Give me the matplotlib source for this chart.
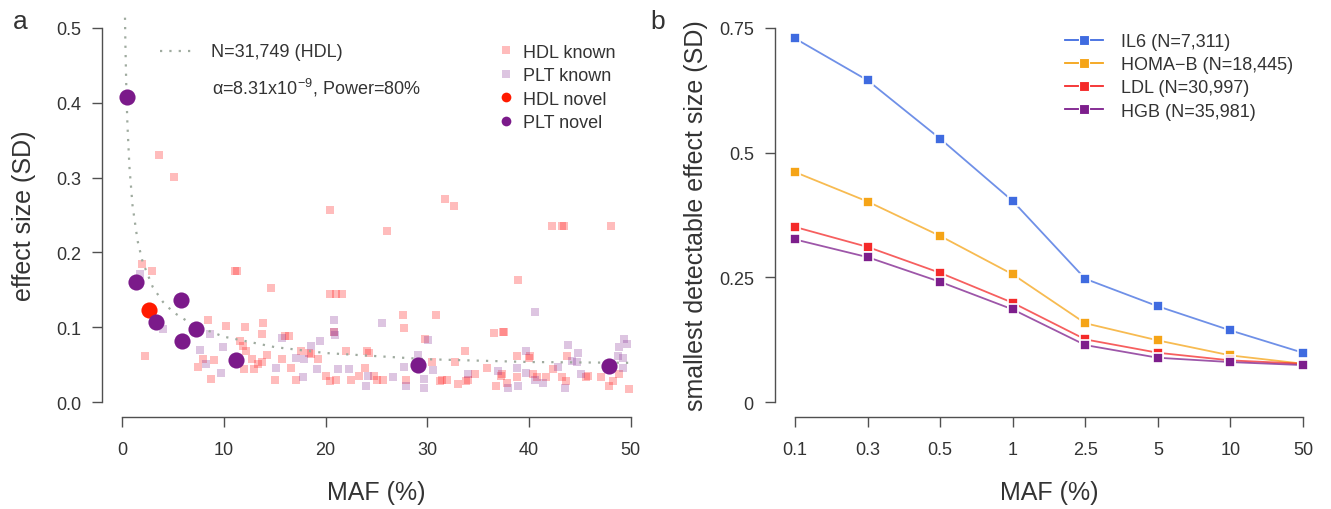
import numpy as np
import matplotlib
matplotlib.use("Agg")
import matplotlib.pyplot as plt
from matplotlib.lines import Line2D

plt.rcParams['font.family'] = ['Liberation Sans', 'DejaVu Sans']
plt.rcParams['mathtext.fontset'] = 'custom'
plt.rcParams['mathtext.rm'] = 'Liberation Sans'
plt.rcParams['mathtext.it'] = 'Liberation Sans:italic'

# ---- panel a data (MAF %, effect size SD) ----
hdl_known_maf = [3.62, 5.07, 1.9, 2.93, 11.1, 11.3, 20.4, 31.7, 32.6, 26.0, 42.3, 43.2, 43.4, 48.1,
                 38.9, 14.6, 20.4, 21.0, 21.6, 27.6, 30.9, 27.7, 8.4, 2.24,
                 10.2, 12.1, 13.8, 13.75, 16.0, 16.4, 7.9, 7.4, 9.0, 8.7, 11.6, 11.9, 12.2, 12.0,
                 12.8, 13.3, 13.7, 13.0, 14.2, 15.7, 15.0, 16.6, 17.6, 18.4, 18.6, 19.2, 17.1,
                 20.0, 20.4, 21.0, 22.0, 22.5, 23.3, 23.9, 24.1, 24.3, 25.0, 20.8,
                 29.8, 36.6, 37.4, 37.5, 30.5, 32.7, 33.7, 27.9, 25.6, 24.8, 31.2, 31.4, 31.9,
                 33.0, 33.8, 34.0, 34.7, 35.9, 37.2, 37.3, 36.8, 37.8, 38.8, 38.8, 40.0, 40.1,
                 40.4, 40.8, 41.7, 42.4, 43.2, 43.6, 43.7, 45.6, 45.8, 47.1, 47.9, 48.3, 48.9, 49.8]
hdl_known_eff = [0.330, 0.301, 0.184, 0.1755, 0.1755, 0.1755, 0.257, 0.272, 0.262, 0.229, 0.235, 0.235, 0.235, 0.235,
                 0.163, 0.152, 0.145, 0.145, 0.145, 0.117, 0.116, 0.099, 0.109, 0.062,
                 0.102, 0.1005, 0.106, 0.091, 0.088, 0.088, 0.057, 0.047, 0.056, 0.031, 0.082, 0.075, 0.068, 0.044,
                 0.057, 0.0505, 0.054, 0.044, 0.0625, 0.057, 0.030, 0.046, 0.068, 0.066, 0.064, 0.057, 0.030,
                 0.035, 0.028, 0.030, 0.068, 0.030, 0.035, 0.046, 0.068, 0.066, 0.030, 0.094,
                 0.084, 0.092, 0.094, 0.093, 0.053, 0.054, 0.068, 0.030, 0.030, 0.035, 0.028, 0.029, 0.030,
                 0.024, 0.028, 0.029, 0.037, 0.046, 0.035, 0.037, 0.022, 0.026, 0.033, 0.062, 0.0595, 0.062,
                 0.038, 0.033, 0.033, 0.044, 0.033, 0.028, 0.062, 0.033, 0.035, 0.033, 0.021, 0.028, 0.037, 0.018]

plt_known_maf = [40.6, 25.5, 20.8, 20.8, 20.9, 3.97, 8.6, 15.7, 19.4, 18.6, 7.68, 8.2, 9.9, 9.7, 15.1,
                 17.1, 17.9, 19.1, 17.8, 21.2, 22.3, 24.2, 24.0, 30.1, 29.1, 27.7, 30.6, 29.7, 29.7,
                 27.9, 26.6, 34.0, 37.0, 37.9, 38.8, 38.9, 39.7, 39.7, 40.6, 41.4, 42.9, 43.5, 43.8,
                 44.2, 44.7, 44.8, 45.1, 48.8, 49.2, 49.3, 49.6, 48.9, 49.2, 1.72]
plt_known_eff = [0.121, 0.106, 0.109, 0.093, 0.090, 0.098, 0.091, 0.086, 0.082, 0.075, 0.069, 0.0505, 0.073, 0.039, 0.046,
                 0.0595, 0.057, 0.044, 0.033, 0.044, 0.044, 0.035, 0.021, 0.083, 0.0625, 0.047, 0.043, 0.031, 0.019,
                 0.021, 0.0335, 0.037, 0.0415, 0.019, 0.045, 0.021, 0.068, 0.039, 0.030, 0.026, 0.047, 0.019, 0.076,
                 0.055, 0.054, 0.066, 0.037, 0.062, 0.0595, 0.084, 0.077, 0.073, 0.046, 0.171]

hdl_novel_maf = [2.59]
hdl_novel_eff = [0.123]
plt_novel_maf = [0.45, 1.38, 5.76, 3.34, 5.9, 7.24, 11.14, 29.07, 47.9]
plt_novel_eff = [0.408, 0.161, 0.136, 0.107, 0.082, 0.098, 0.056, 0.050, 0.048]

# power curve (N=31,749)
curve_maf = [0.15, 0.2, 0.25, 0.3, 0.4, 0.5, 0.7, 1, 1.5, 2, 3, 4, 5, 7, 10, 15, 20, 30, 40, 50]
curve_eff = [0.677, 0.586, 0.525, 0.479, 0.415, 0.371, 0.314, 0.263, 0.2155, 0.187, 0.1535, 0.1337,
             0.1202, 0.1027, 0.0873, 0.0734, 0.0655, 0.0572, 0.0535, 0.0524]

# ---- panel b data ----
maf_labels = ['0.1', '0.3', '0.5', '1', '2.5', '5', '10', '50']
series_names = ['IL6 (N=7,311)', 'HOMA\u2212B (N=18,445)', 'LDL (N=30,997)', 'HGB (N=35,981)']
il6 = [0.729, 0.645, 0.528, 0.403, 0.247, 0.192, 0.1436, 0.0988]
homab = [0.461, 0.402, 0.333, 0.256, 0.158, 0.1236, 0.0935, 0.0768]
ldl = [0.351, 0.311, 0.259, 0.199, 0.1256, 0.0988, 0.0835, 0.0768]
hgb = [0.326, 0.2905, 0.241, 0.1857, 0.1142, 0.0888, 0.0801, 0.0741]
series_colors = ['#3f6be0', '#f5a417', '#f42a2a', '#7d1e8c']

red = '#ff1a00'
purple = '#7b1a8a'
axcol = '#505050'
txtcol = '#333333'
curvecol = '#9fab9f'

fig = plt.figure(figsize=(13.31, 5.10), dpi=100)
ax1 = fig.add_axes([102 / 1331, 1 - 418 / 510, 549 / 1331, 404 / 510])
ax2 = fig.add_axes([774.7 / 1331, 1 - 418 / 510, 548.6 / 1331, 404 / 510])


def r_style(ax):
    for s in ['top', 'right']:
        ax.spines[s].set_visible(False)
    for s in ['left', 'bottom']:
        ax.spines[s].set_color(axcol)
        ax.spines[s].set_linewidth(1.0)
    ax.tick_params(axis='both', direction='out', length=7, width=1.0, color=axcol,
                   labelsize=13, labelcolor=txtcol)
    ax.tick_params(axis='x', pad=10)
    ax.tick_params(axis='y', pad=8)


# panel a
ax1.plot(curve_maf, curve_eff, color=curvecol, lw=1.6, ls=(0, (1, 3.2)), zorder=2)
ax1.scatter(hdl_known_maf, hdl_known_eff, marker='s', s=38, color='#ff1010', alpha=0.28, lw=0, zorder=1)
ax1.scatter(plt_known_maf, plt_known_eff, marker='s', s=38, color=purple, alpha=0.25, lw=0, zorder=1)
ax1.scatter(hdl_novel_maf, hdl_novel_eff, marker='o', s=135, color=red, lw=0, zorder=3)
ax1.scatter(plt_novel_maf, plt_novel_eff, marker='o', s=135, color=purple, lw=0, zorder=3)
ax1.set_xlim(-2, 52)
ax1.set_ylim(-0.02, 0.52)
ax1.set_xticks([0, 10, 20, 30, 40, 50])
ax1.set_yticks([0, 0.1, 0.2, 0.3, 0.4, 0.5])
ax1.set_yticklabels(['0.0', '0.1', '0.2', '0.3', '0.4', '0.5'])
ax1.spines['left'].set_bounds(0, 0.5)
ax1.spines['bottom'].set_bounds(0, 50)
r_style(ax1)
ax1.set_xlabel('MAF (%)', fontsize=18, color=txtcol, va='center')
ax1.xaxis.set_label_coords(0.5, -0.186)
ax1.set_ylabel('effect size (SD)', fontsize=18, color=txtcol, va='center')
ax1.yaxis.set_label_coords(-0.142, 0.5)

# left annotation (curve legend)
ax1.plot([0.105, 0.163], [0.905, 0.905], transform=ax1.transAxes, color=curvecol,
         lw=1.6, ls=(0, (1, 3.2)))
ax1.text(0.198, 0.905, 'N=31,749 (HDL)', transform=ax1.transAxes, fontsize=13,
         color=txtcol, va='center', ha='left')
ax1.text(0.200, 0.818, r'α=8.31x10$^{-9}$, Power=80%', transform=ax1.transAxes,
         fontsize=13, color=txtcol, va='center', ha='left')

h = [Line2D([], [], ls='none', marker='s', ms=6, color='#ff1010', alpha=0.28, mew=0),
     Line2D([], [], ls='none', marker='s', ms=6, color=purple, alpha=0.25, mew=0),
     Line2D([], [], ls='none', marker='o', ms=7, color=red, mew=0),
     Line2D([], [], ls='none', marker='o', ms=7, color=purple, mew=0)]
ax1.legend(h, ['HDL known', 'PLT known', 'HDL novel', 'PLT novel'], loc='upper left',
           bbox_to_anchor=(0.7195, 0.924), frameon=False, fontsize=13, borderpad=0,
           borderaxespad=0, handlelength=1.0, handletextpad=0.45, labelspacing=0.36,
           labelcolor=txtcol)

# panel b
xpos = np.arange(1, len(maf_labels) + 1)
for vals, name, c in zip([il6, homab, ldl, hgb], series_names, series_colors):
    ax2.plot(xpos, vals, color=c, lw=1.3, alpha=0.75, zorder=2)
    ax2.plot(xpos, vals, ls='none', marker='s', ms=7.5, color=c, mec='white', mew=1.2, zorder=3)
ax2.set_xlim(0.72, 8.28)
ax2.set_ylim(-0.03, 0.78)
ax2.set_xticks(xpos)
ax2.set_xticklabels(maf_labels)
ax2.set_yticks([0, 0.25, 0.5, 0.75])
ax2.set_yticklabels(['0', '0.25', '0.5', '0.75'])
ax2.spines['left'].set_bounds(0, 0.75)
ax2.spines['bottom'].set_bounds(1, 8)
r_style(ax2)
ax2.set_xlabel('MAF (%)', fontsize=18, color=txtcol, va='center')
ax2.xaxis.set_label_coords(0.5, -0.186)
ax2.set_ylabel('smallest detectable effect size (SD)', fontsize=18, color=txtcol, va='center')
ax2.yaxis.set_label_coords(-0.1435, 0.5)

h2 = [Line2D([], [], color=c, lw=1.3, marker='s', ms=7, mec='white', mew=0.8) for c in series_colors]
ax2.legend(h2, series_names, loc='upper left', bbox_to_anchor=(0.530, 0.950), frameon=False,
           fontsize=13, borderpad=0, borderaxespad=0, handlelength=2.1, handletextpad=1.0,
           labelspacing=0.34, labelcolor=txtcol)

fig.text(20 / 1331, 1 - 22 / 510, 'a', fontsize=19, color=txtcol, ha='center', va='center')
fig.text(658 / 1331, 1 - 22 / 510, 'b', fontsize=19, color=txtcol, ha='center', va='center')

fig.savefig('out.png', dpi=100)
